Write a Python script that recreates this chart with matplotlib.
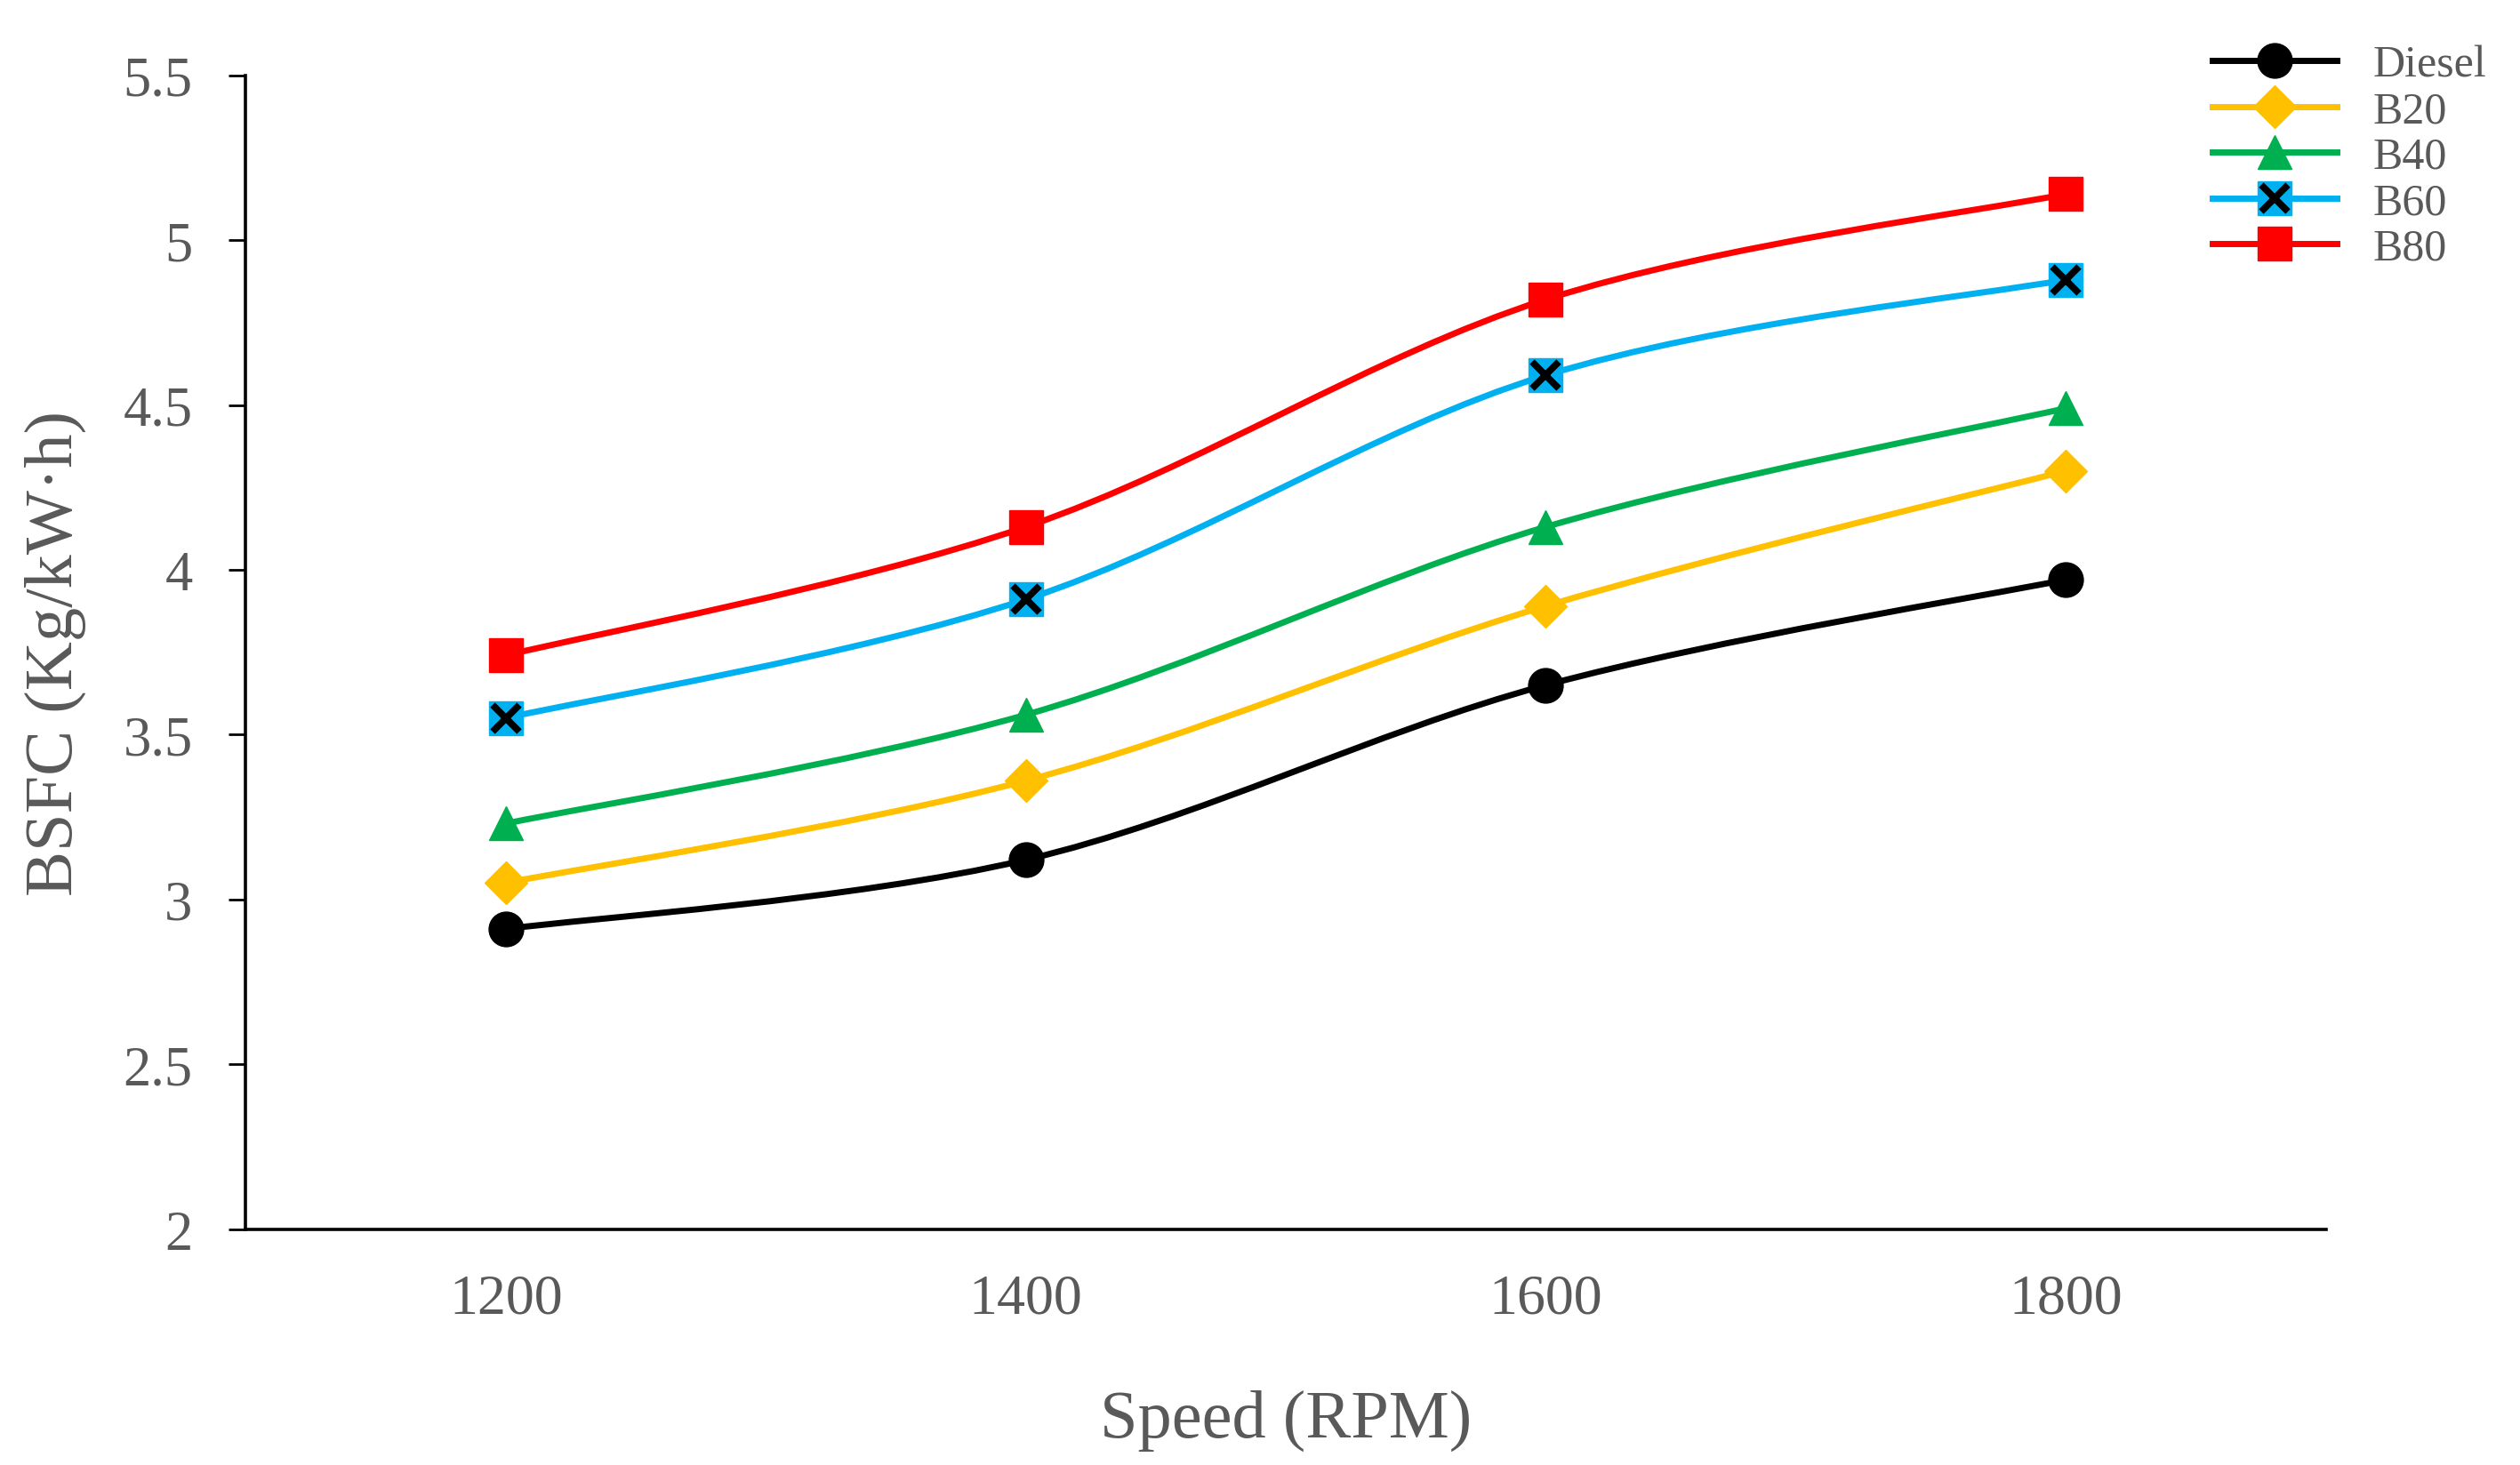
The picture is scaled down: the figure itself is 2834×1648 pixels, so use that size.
import numpy as np
import matplotlib.pyplot as plt
from matplotlib.path import Path
from matplotlib.patches import PathPatch
from matplotlib.lines import Line2D
from matplotlib.legend_handler import HandlerTuple

speed  = [1200, 1400, 1600, 1800]
diesel = [2.91, 3.12, 3.65, 3.97]
b20    = [3.05, 3.36, 3.89, 4.30]
b40    = [3.23, 3.56, 4.13, 4.49]
b60    = [3.55, 3.91, 4.59, 4.88]
b80    = [3.74, 4.13, 4.82, 5.14]

series = [
    ('Diesel', diesel, '#000000', 'o'),
    ('B20',    b20,    '#FFC000', 'D'),
    ('B40',    b40,    '#00B050', '^'),
    ('B60',    b60,    '#00B0F0', 's'),
    ('B80',    b80,    '#FF0000', 's'),
]

plt.rcParams['font.family'] = ['Liberation Serif', 'DejaVu Serif']
GREY = '#595959'


def smooth_path(x, y):
    # excel-style smoothed line as cubic bezier segments
    p = np.column_stack([x, y]).astype(float)
    n = len(p)
    verts = [p[0]]
    codes = [Path.MOVETO]
    for i in range(n - 1):
        p0 = p[max(i - 1, 0)]
        p3 = p[min(i + 2, n - 1)]
        c1 = p[i] + (p[i + 1] - p0) / 6
        c2 = p[i + 1] - (p3 - p[i]) / 6
        verts += [c1, c2, p[i + 1]]
        codes += [Path.CURVE4] * 3
    return Path(verts, codes)


fig = plt.figure(figsize=(28.34, 16.49), dpi=100)
ax = fig.add_axes([0.0975, 0.161, 0.8255, 0.787])

lw = 5
handles = []
for name, vals, col, mk in series:
    ax.add_patch(PathPatch(smooth_path(speed, vals), fill=False,
                           edgecolor=col, lw=lw, zorder=2))
    ms = {'o': 28, 'D': 24, '^': 28, 's': 27}[mk]
    ax.plot(speed, vals, ls='none', marker=mk, ms=ms, color=col,
            mec=col, zorder=3)
    h = Line2D([], [], color=col, lw=lw, marker=mk, ms=ms, mec=col)
    if name == 'B60':
        ax.plot(speed, vals, ls='none', marker='x', ms=22, mew=5.5,
                color='black', zorder=4)
        hx = Line2D([], [], ls='none', marker='x', ms=22, mew=5.5, color='black')
        h = (h, hx)
    handles.append(h)

ax.set_xlim(1100, 1900)
ax.set_ylim(2, 5.5)
ax.set_xticks(speed)
ax.set_yticks(np.arange(2, 5.51, 0.5))
ax.set_yticklabels(['2', '2.5', '3', '3.5', '4', '4.5', '5', '5.5'])

for s in ['top', 'right']:
    ax.spines[s].set_visible(False)
for s in ['left', 'bottom']:
    ax.spines[s].set_linewidth(2.6)
    ax.spines[s].set_color('black')

ax.tick_params(axis='y', direction='out', length=14, width=2, pad=29,
               labelsize=45, labelcolor=GREY, color='black')
ax.tick_params(axis='x', length=0, pad=36, labelsize=46, labelcolor=GREY)

ax.set_xlabel('Speed (RPM)', fontsize=55, color=GREY, labelpad=52)
ax.set_ylabel('BSFC (Kg/kW·h)', fontsize=55, color=GREY, labelpad=30)

ax.legend(handles, [s[0] for s in series], loc='upper right',
          bbox_to_anchor=(0.999, 0.99), bbox_transform=fig.transFigure,
          frameon=False, fontsize=36, labelcolor=GREY, handlelength=2.8,
          handletextpad=0.8, labelspacing=0.1, borderpad=0.2,
          handler_map={tuple: HandlerTuple(ndivide=1)})

fig.savefig('out.png', dpi=100)
